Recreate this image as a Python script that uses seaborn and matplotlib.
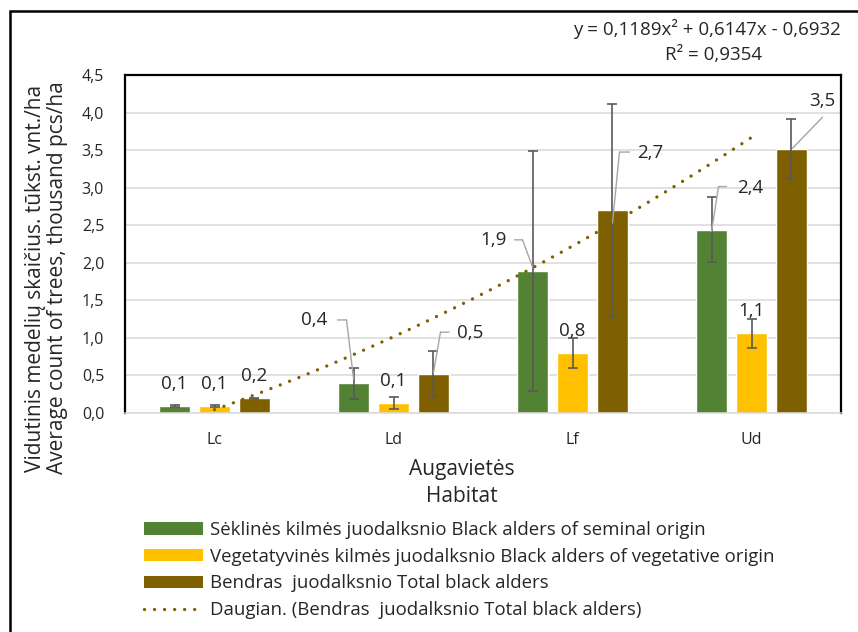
import numpy as np
import pandas as pd
import matplotlib
matplotlib.use("Agg")
import matplotlib.pyplot as plt
from matplotlib.transforms import offset_copy
from matplotlib.lines import Line2D
from matplotlib.patches import Rectangle, Patch
import seaborn as sns

# ---- data -------------------------------------------------------------
habitats = ["Lc", "Ld", "Lf", "Ud"]
series_names = [
    "Sėklinės kilmės juodalksnio Black alders of seminal origin",
    "Vegetatyvinės kilmės juodalksnio Black alders of vegetative origin",
    "Bendras  juodalksnio Total black alders",
]
seminal = [0.09, 0.39, 1.89, 2.44]
vegetative = [0.09, 0.13, 0.80, 1.06]
total = [0.19, 0.52, 2.70, 3.51]
seminal_err = [0.01, 0.21, 1.60, 0.43]
vegetative_err = [0.01, 0.085, 0.20, 0.195]
total_err = [0.01, 0.30, 1.41, 0.40]

# quadratic trend of the total count (x = 1..4 over the habitats)
trend_coef = [0.1189, 0.6147, -0.6932]
trend_r2 = 0.9354
trend_name = "Daugian. (Bendras  juodalksnio Total black alders)"

y_ticks = [0.0, 0.5, 1.0, 1.5, 2.0, 2.5, 3.0, 3.5, 4.0, 4.5]
x_title = ["Augavietės", "Habitat"]
y_title = ["Vidutinis medelių skaičius. tūkst. vnt./ha",
           "Average count of trees, thousand pcs/ha"]

# ---- styling ----------------------------------------------------------
colors = ["#548235", "#ffc000", "#7f6000"]
TEXT = "#262626"
W, H = 858, 632

sns.set_theme(style="white")
plt.rcParams["font.family"] = ["Open Sans", "DejaVu Sans"]
FS_TICK = 11.5
FS_LABEL = 13.5
FS_TITLE = 15.0
FS_LEGEND = 13.4
FS_EQ = 13.5

def dec(v, nd=1):
    return f"{v:.{nd}f}".replace(".", ",")

df = pd.DataFrame({
    "habitat": habitats * 3,
    "series": np.repeat(series_names, len(habitats)),
    "value": seminal + vegetative + total,
})

fig = plt.figure(figsize=(W / 100, H / 100), dpi=100)
ax = fig.add_axes([125 / W, 1 - 412.7 / H, (841 - 125) / W, (412.7 - 75) / H])

sns.barplot(data=df, x="habitat", y="value", hue="series", palette=colors,
            hue_order=series_names, order=habitats, width=0.67, gap=0.226,
            saturation=1, errorbar=None, legend=False, ax=ax, zorder=2)
bar_containers = list(ax.containers)

ax.set_xlim(-0.5, 3.5)
ax.set_ylim(0, 4.5)
ax.set_yticks(y_ticks)
ax.set_yticklabels([dec(t) for t in y_ticks])
ax.set_xlabel("")
ax.set_ylabel("")
ax.tick_params(axis="both", length=0, labelsize=FS_TICK, colors=TEXT)
ax.tick_params(axis="y", pad=15)
ax.tick_params(axis="x", pad=14)
ax.yaxis.grid(True, color="#d9d9d9", lw=1.1)
ax.set_axisbelow(True)
for side in ("left", "top", "right"):
    ax.spines[side].set_color("black")
    ax.spines[side].set_linewidth(1.6)
ax.spines["bottom"].set_color("#d9d9d9")
ax.spines["bottom"].set_linewidth(1.1)

# error bars
errors = [seminal_err, vegetative_err, total_err]
for cont, errs in zip(bar_containers, errors):
    xs = [b.get_x() + b.get_width() / 2 for b in cont]
    hs = [b.get_height() for b in cont]
    ax.errorbar(xs, hs, yerr=errs, fmt="none", ecolor="#595959", elinewidth=1.2,
                capsize=3.4, capthick=1.2, zorder=4)

# trend line
tx = np.linspace(0, len(habitats) - 1, 200)
ty = np.polyval(trend_coef, tx + 1)
trend_style = dict(color="#7f6000", lw=2.4, linestyle=(0, (0.01, 3.0)),
                   dash_capstyle="round")
ax.plot(tx, ty, zorder=3, **trend_style)

# data labels (pixel offsets from the bar top, leader lines where moved)
label_layout = {
    (0, 1): ((-39, 63), [(-16, 63.5), (-7, 63.5), (0, 5)]),
    (2, 1): ((37, 41), [(15.5, 41.5), (7, 41.5), (0, 1)]),
    (0, 2): ((-39, 31), [(-18, 31), (-10, 31), (0, 4)]),
    (2, 2): ((38, 57), [(17, 58), (7, 58), (0, -13)]),
    (0, 3): ((39, 42), [(15, 43), (7, 43), (0, -2)]),
    (2, 3): ((31, 48), [(31, 32), (1, 1)]),
}
for si, cont in enumerate(bar_containers):
    for hi, b in enumerate(cont):
        x = b.get_x() + b.get_width() / 2
        h = b.get_height()
        (dx, dy), leader = label_layout.get((si, hi), ((0, 22), None))
        tr = offset_copy(ax.transData, fig=fig, x=dx, y=dy, units="dots")
        ax.text(x, h, dec(h), transform=tr, ha="center", va="center",
                fontsize=FS_LABEL, color=TEXT, zorder=6)
        if leader:
            for (ax0, ay0), (ax1, ay1) in zip(leader[:-1], leader[1:]):
                ax.annotate("", xy=(x, h), xytext=(x, h),
                            xycoords=offset_copy(ax.transData, fig=fig, x=ax1, y=ay1, units="dots"),
                            textcoords=offset_copy(ax.transData, fig=fig, x=ax0, y=ay0, units="dots"),
                            arrowprops=dict(arrowstyle="-", color="#a6a6a6", lw=1.0,
                                            shrinkA=0, shrinkB=0), zorder=5)

# axis titles
fig.text(462 / W, 1 - 469 / H, x_title[0], ha="center", va="center", fontsize=FS_TITLE, color=TEXT)
fig.text(462 / W, 1 - 496 / H, x_title[1], ha="center", va="center", fontsize=FS_TITLE, color=TEXT)
fig.text(46.5 / W, 1 - 278 / H, "\n".join(y_title), rotation=90, ha="center", va="center",
         fontsize=FS_TITLE, color=TEXT, linespacing=1.04, multialignment="center")

# trend equation
c2, c1, c0 = trend_coef
eq = f"y = {dec(c2, 4)}x² + {dec(c1, 4)}x - {dec(abs(c0), 4)}"
fig.text(707 / W, 1 - 29 / H, eq, ha="center", va="center", fontsize=FS_EQ, color=TEXT)
fig.text(714 / W, 1 - 55 / H, f"R² = {dec(trend_r2, 4)}", ha="center", va="center",
         fontsize=FS_EQ, color=TEXT)

# legend
handles = [Patch(facecolor=c, edgecolor="none") for c in colors]
handles.append(Line2D([], [], **trend_style))
labels = series_names + [trend_name]
ax.legend(handles, labels, loc="upper left", bbox_to_anchor=(144 / W, 1 - 521 / H),
          bbox_transform=fig.transFigure, frameon=False, fontsize=FS_LEGEND,
          handlelength=3.17, handleheight=0.65, handletextpad=0.38, labelspacing=0.47,
          borderpad=0, borderaxespad=0, labelcolor=TEXT)

# outer frame
fig.add_artist(Rectangle((10 / W, -0.1), 1.2, 1 - 11 / H + 0.1, transform=fig.transFigure,
                         fill=False, edgecolor="black", lw=1.8))

fig.savefig("out.png", dpi=100)
